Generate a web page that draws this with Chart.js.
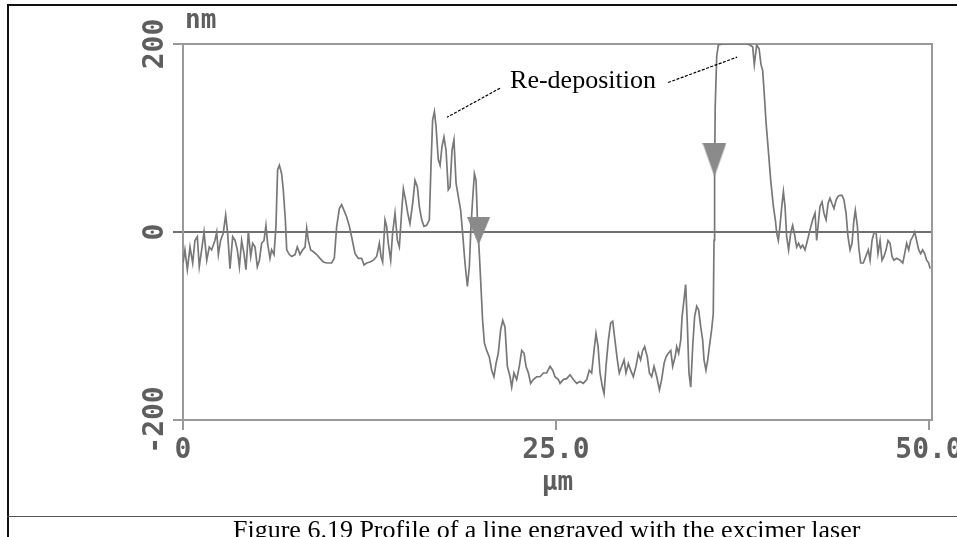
<!DOCTYPE html>
<html lang="en">
<head>
<meta charset="UTF-8" />
<title>Profile of a line engraved with the excimer laser</title>
<script src="https://cdn.jsdelivr.net/npm/chart.js"></script>
<style>
  html, body { margin: 0; padding: 0; background: #fff; overflow: hidden; }
  body { width: 957px; height: 537px; position: relative; }
  #profile { position: absolute; left: 0; top: 0; }
  .cell { position: absolute; left: 7px; top: 4px; width: 1000px; height: 600px;
          border-left: 2px solid #111; border-top: 2px solid #111; }
  .rule { position: absolute; left: 7px; top: 516px; width: 1000px; border-top: 1px solid #555; }
  .caption { position: absolute; left: 233px; top: 517px; white-space: nowrap; color: #000;
             font: 26px/26px "Liberation Serif", "Times New Roman", serif; }
</style>
</head>
<body>
<canvas id="profile" width="957" height="516"></canvas>
<div class="cell"></div>
<div class="rule"></div>
<div class="caption">Figure 6.19 Profile of a line engraved with the excimer laser</div>

<script>
// scan position along the line (um) and measured height (nm)
const posUm = [
  0.00, 0.13, 0.29, 0.47, 0.65, 0.80, 0.96, 1.09, 1.25, 1.41, 1.59, 1.76, 1.92, 2.14, 2.26, 2.37,
  2.52, 2.70, 2.86, 2.99, 3.15, 3.33, 3.49, 3.64, 3.78, 3.93, 4.09, 4.22, 4.38, 4.54, 4.67, 4.83,
  4.98, 5.12, 5.27, 5.43, 5.56, 5.67, 5.83, 5.94, 6.10, 6.23, 6.34, 6.46, 6.61, 6.72, 6.86, 6.95,
  7.13, 7.28, 7.51, 7.66, 7.84, 8.02, 8.18, 8.29, 8.40, 8.56, 8.74, 8.96, 9.18, 9.41, 9.63, 9.96,
  10.14, 10.30, 10.48, 10.63, 10.79, 10.97, 11.15, 11.30, 11.53, 11.75, 11.97, 12.13, 12.31,
  12.53, 12.76, 12.98, 13.16, 13.27, 13.38, 13.54, 13.65, 13.76, 13.92, 14.05, 14.21, 14.37, 14.50,
  14.66, 14.77, 14.92, 15.06, 15.21, 15.39, 15.55, 15.71, 15.84, 16.00, 16.15, 16.33, 16.51, 16.62,
  16.73, 16.85, 16.96, 17.11, 17.23, 17.36, 17.49, 17.63, 17.78, 17.90, 18.03, 18.16, 18.30, 18.45,
  18.61, 18.74, 18.90, 19.06, 19.19, 19.30, 19.41, 19.53, 19.64, 19.75, 19.86, 19.97, 20.08, 20.20,
  20.35, 20.53, 20.69, 20.84, 20.98, 21.13, 21.29, 21.43, 21.58, 21.74, 21.92, 22.03, 22.18, 22.36,
  22.54, 22.70, 22.86, 22.99, 23.15, 23.30, 23.48, 23.70, 23.93, 24.15, 24.37, 24.60, 24.78, 24.93,
  25.16, 25.27, 25.49, 25.71, 25.94, 26.16, 26.39, 26.61, 26.83, 27.06, 27.23, 27.39, 27.55, 27.68,
  27.82, 27.95, 28.11, 28.22, 28.35, 28.51, 28.66, 28.80, 28.95, 29.11, 29.24, 29.40, 29.56, 29.69,
  29.85, 30.00, 30.18, 30.36, 30.52, 30.67, 30.81, 30.94, 31.12, 31.26, 31.41, 31.57, 31.75, 31.93,
  32.08, 32.24, 32.37, 32.53, 32.69, 32.82, 32.98, 33.09, 33.22, 33.36, 33.45, 33.58, 33.69, 33.80,
  33.91, 34.03, 34.16, 34.29, 34.43, 34.56, 34.70, 34.83, 34.92, 35.05, 35.17, 35.28, 35.43, 35.54,
  35.59, 35.63, 35.67, 35.77, 35.88, 36.20, 36.80, 37.40, 37.80,
  38.00, 38.18, 38.29, 38.45, 38.61, 38.74, 38.85, 38.94, 39.08, 39.23, 39.39, 39.57, 39.70, 39.79,
  39.90, 40.01, 40.13, 40.24, 40.35, 40.46, 40.59, 40.73, 40.86, 40.97, 41.13, 41.26, 41.40, 41.53,
  41.69, 41.85, 42.02, 42.20, 42.36, 42.47, 42.58, 42.69, 42.83, 42.96, 43.10, 43.23, 43.36, 43.50,
  43.63, 43.77, 43.90, 44.03, 44.17, 44.30, 44.44, 44.57, 44.71, 44.84, 44.97, 45.06, 45.20, 45.29,
  45.42, 45.60, 45.76, 45.93, 46.05, 46.18, 46.31, 46.45, 46.58, 46.72, 46.85, 46.98, 47.12, 47.25,
  47.39, 47.52, 47.65, 47.83, 48.06, 48.24, 48.37, 48.50, 48.64, 48.77, 48.91, 49.04, 49.17, 49.31,
  49.44, 49.57, 49.71, 49.84, 49.98, 50.07
];
const heightNm = [
  -33, -19, -40, -16, -33, -9, -5, -37, -19, 0, -30, -16, -19, -9, 0, -24,
  -9, -1, 18, -1, -39, -5, -9, -19, -37, -9, -23, -40, 0, -26, -12, -16,
  -37, -30, -12, -9, 7, -12, -28, -19, -24, 6, 66, 71, 62, 45, 13, -19,
  -24, -26, -24, -16, -24, -19, -16, 4, -9, -19, -21, -24, -28, -32, -33, -33,
  -28, 6, 25, 29, 23, 16, 6, -5, -23, -28, -28, -35, -33,
  -32, -30, -26, -12, -26, -32, 13, 6, -12, -30, -1, 20, -9, -16,
  23, 46, 34, 20, 9, 30, 55, 48, 27, 13, 6, 7, 13, 70,
  119, 128, 112, 77, 71, 91, 101, 87, 45, 48, 87, 98, 52, 38,
  23, -1, -33, -58, -37, 6, 34, 62, 55, 6, -23, -58, -94, -118,
  -126, -133, -147, -154, -140, -129, -104, -94, -101, -143, -154, -165, -150, -157,
  -143, -126, -129, -143, -150, -161, -157, -154, -154, -150, -150, -143, -147, -154,
  -157, -161, -157, -156, -152, -157, -161, -159, -161, -157, -147, -150, -126, -108,
  -122, -150, -165, -172, -143, -115, -97, -95, -115, -136, -150, -143, -136, -150,
  -140, -147, -154, -143, -129, -136, -126, -122, -133, -150, -154, -143, -154, -168,
  -157, -140, -133, -129, -126, -143, -133, -122, -129, -115, -90, -72, -56, -97,
  -150, -165, -122, -90, -79, -83, -101, -115, -136, -147, -136, -122, -104, -87,
  -9, 62, 133, 187, 199, 200, 200, 200, 200,
  199, 197, 178, 199, 195, 178, 172, 151, 116, 87, 55, 27, 13, -1,
  -9, 6, 27, 43, 27, -5, -19, -1, 7, -1, -16, -12, -17, -14,
  -19, -9, 2, 13, 20, -9, 9, 27, 32, 20, 13, 30, 36, 30,
  25, 34, 38, 39, 39, 34, 20, -5, -19, -12, 13, 23, 6, -16,
  -33, -33, -26, -19, -30, -9, -1, 0, -23, -9, -30, -26, -19, -9,
  -12, -26, -30, -28, -30, -33, -23, -12, -19, -9, -5, 0, -9, -19,
  -23, -19, -23, -30, -33, -39
];

// the two measurement cursors
const cursorUm = [19.81, 35.62];
const cursorNm = [1, 77];

const xTicks = [0, 25, 50];
const xTickLabels = ['0', '25.0', '50.0'];
const yTicks = [-200, 0, 200];
const yTickLabels = ['-200', '0', '200'];
const xUnit = 'μm';
const yUnit = 'nm';

// callout text and its two leader lines, in data units
const noteText = 'Re-deposition';
const noteAt = [21.92, 153];
const leaderStartX = [21.25, 32.51];
const leaderStartY = [153, 159];
const leaderEndX = [17.69, 37.13];
const leaderEndY = [122, 186];

const MONO = 'DejaVu Sans Mono';
const INK = '#5e5e5e';
const AXIS = '#9a9a9a';

// downward pointing cursor marks
function cursorMark(w, h) {
  const c = document.createElement('canvas');
  c.width = w;
  c.height = h;
  const g = c.getContext('2d');
  g.fillStyle = '#8a8a8a';
  g.beginPath();
  g.moveTo(0, 0);
  g.lineTo(w, 0);
  g.lineTo(w / 2, h);
  g.closePath();
  g.fill();
  return c;
}
const cursorMarks = [cursorMark(23, 28), cursorMark(24, 34)];

const overlay = {
  id: 'overlay',
  beforeDatasetsDraw(chart) {
    const {ctx, chartArea: a} = chart;
    ctx.save();
    ctx.strokeStyle = AXIS;
    ctx.lineWidth = 2;
    ctx.beginPath();
    ctx.moveTo(a.left, a.top);
    ctx.lineTo(a.right, a.top);
    ctx.lineTo(a.right, a.bottom);
    ctx.stroke();
    ctx.restore();
  },
  afterDraw(chart) {
    const {ctx, chartArea: a, scales: {x, y}} = chart;
    ctx.save();
    // unit of the height axis
    ctx.fillStyle = INK;
    ctx.font = 'bold 26px "' + MONO + '"';
    ctx.textBaseline = 'alphabetic';
    ctx.fillText(yUnit, a.left + 2, a.top - 16);

    // callout
    ctx.fillStyle = '#000';
    ctx.font = '26px "Liberation Serif", "Times New Roman", serif';
    ctx.fillText(noteText, x.getPixelForValue(noteAt[0]), y.getPixelForValue(noteAt[1]));
    ctx.strokeStyle = '#000';
    ctx.lineWidth = 1.2;
    ctx.setLineDash([3, 1.5]);
    for (let i = 0; i < leaderStartX.length; i++) {
      ctx.beginPath();
      ctx.moveTo(x.getPixelForValue(leaderStartX[i]), y.getPixelForValue(leaderStartY[i]));
      ctx.lineTo(x.getPixelForValue(leaderEndX[i]), y.getPixelForValue(leaderEndY[i]));
      ctx.stroke();
    }
    ctx.restore();
  }
};

const tickFont = {family: MONO, weight: 'bold', size: 28};

new Chart(document.getElementById('profile'), {
  type: 'line',
  data: {
    datasets: [
      {
        label: 'cursors',
        type: 'scatter',
        data: cursorUm.map((v, i) => ({x: v, y: cursorNm[i]})),
        pointStyle: c => cursorMarks[c.dataIndex],
        pointRadius: 12,
        showLine: false
      },
      {
        label: 'profile',
        data: posUm.map((v, i) => ({x: v, y: heightNm[i]})),
        borderColor: '#787878',
        borderWidth: 1.7,
        pointRadius: 0,
        tension: 0,
        fill: false
      }
    ]
  },
  options: {
    responsive: false,
    animation: false,
    layout: {padding: {left: 0, top: 44, right: 25, bottom: 0}},
    plugins: {legend: {display: false}, tooltip: {enabled: false}},
    scales: {
      x: {
        type: 'linear',
        min: 0,
        max: 50.2,
        afterBuildTicks: s => { s.ticks = xTicks.map(v => ({value: v})); },
        afterFit: s => { s.height = 96; s.paddingLeft = 0; s.paddingRight = 0; },
        border: {color: AXIS, width: 2},
        grid: {drawOnChartArea: false, color: AXIS, lineWidth: 2, tickLength: 10},
        ticks: {
          autoSkip: false, maxRotation: 0, padding: 4, color: INK, font: tickFont,
          callback: (v, i) => xTickLabels[i]
        },
        title: {
          display: true, text: xUnit, color: INK,
          font: {family: MONO, weight: 'bold', size: 26},
          padding: {top: 0, bottom: 17}
        }
      },
      y: {
        min: -200,
        max: 200,
        afterBuildTicks: s => { s.ticks = yTicks.map(v => ({value: v})); },
        afterFit: s => { s.width = 183; s.paddingTop = 0; s.paddingBottom = 0; },
        border: {color: AXIS, width: 2},
        grid: {
          color: c => (c.tick && c.tick.value === 0 ? '#707070' : AXIS),
          lineWidth: 2,
          tickLength: 10
        },
        ticks: {
          minRotation: 90, maxRotation: 90, crossAlign: 'center', padding: -16,
          color: INK, font: tickFont,
          callback: (v, i) => yTickLabels[i]
        }
      }
    }
  },
  plugins: [overlay]
});
</script>
</body>
</html>
